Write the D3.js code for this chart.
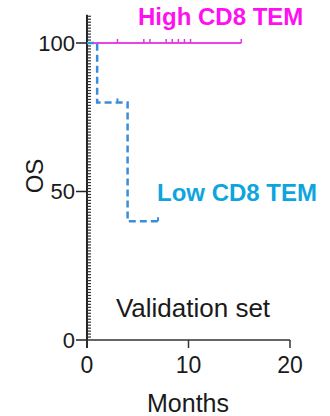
<!DOCTYPE html>
<html>
<head>
<meta charset="utf-8">
<script src="https://cdn.jsdelivr.net/npm/d3@7"></script>
<style>
  body { margin: 0; background: #fff; }
  svg { display: block; font-family: "Liberation Sans", Arial, sans-serif; }
</style>
</head>
<body>
<div id="chart"></div>
<script>
// Kaplan-Meier steps: [months, survival %]
const highSteps = [[0, 100], [15.2, 100]];
const highCensor = [3, 5.6, 6.2, 7.8, 8.4, 9.0, 9.6, 10.2, 15.2];
const lowSteps = [[0, 100], [1, 100], [1, 80], [4, 80], [4, 40], [7, 40]];
const lowCensor = [3, 7];
const xTicks = [0, 10, 20];
const yTicks = [0, 50, 100];
const seriesNames = ["High CD8 TEM", "Low CD8 TEM"];

const width = 330, height = 416;
const svg = d3.select("#chart").append("svg")
  .attr("width", width).attr("height", height);

const x = d3.scaleLinear().domain([0, 20]).range([87, 290]);
const y = d3.scaleLinear().domain([0, 100]).range([340, 43]);

// y axis: major ticks on the left, minor ticks on the right
const yAxis = svg.append("g").attr("transform", "translate(" + x(0) + ",0)");
yAxis.append("line")
  .attr("y1", y(109.5)).attr("y2", y(0) + 8)
  .attr("stroke", "#222").attr("stroke-width", 2);
yAxis.selectAll(".minor")
  .data(d3.range(1, 110))
  .enter().append("line")
  .attr("x1", 0).attr("x2", 4)
  .attr("y1", d => y(d)).attr("y2", d => y(d))
  .attr("stroke", "#333").attr("stroke-width", 1.2);
yAxis.selectAll(".major")
  .data(yTicks)
  .enter().append("line")
  .attr("x1", -11).attr("x2", 0)
  .attr("y1", d => y(d)).attr("y2", d => y(d))
  .attr("stroke", "#222").attr("stroke-width", 1.5);
yAxis.selectAll(".ylab")
  .data(yTicks)
  .enter().append("text")
  .attr("x", -12).attr("y", d => y(d))
  .attr("dy", "0.36em")
  .attr("text-anchor", "end")
  .attr("font-size", 22)
  .attr("fill", "#1a1a1a")
  .text(d => d);

// x axis
const xAxis = svg.append("g").attr("transform", "translate(0," + y(0) + ")");
xAxis.append("line")
  .attr("x1", x(0)).attr("x2", x(20))
  .attr("stroke", "#333").attr("stroke-width", 1.5);
xAxis.selectAll(".xt")
  .data(xTicks)
  .enter().append("line")
  .attr("x1", d => x(d)).attr("x2", d => x(d))
  .attr("y1", 0).attr("y2", 8)
  .attr("stroke", "#333").attr("stroke-width", 1.5);
xAxis.selectAll(".xlab")
  .data(xTicks)
  .enter().append("text")
  .attr("x", d => x(d)).attr("y", 33)
  .attr("text-anchor", "middle")
  .attr("font-size", 23)
  .attr("fill", "#1a1a1a")
  .text(d => d);

svg.append("text")
  .attr("x", 188).attr("y", 412)
  .attr("text-anchor", "middle")
  .attr("font-size", 25)
  .attr("fill", "#1a1a1a")
  .text("Months");

svg.append("text")
  .attr("transform", "translate(43,176) rotate(-90)")
  .attr("text-anchor", "middle")
  .attr("font-size", 24)
  .attr("fill", "#1a1a1a")
  .text("OS");

svg.append("text")
  .attr("x", 193).attr("y", 317)
  .attr("text-anchor", "middle")
  .attr("font-size", 26)
  .attr("fill", "#1a1a1a")
  .text("Validation set");

const line = d3.line().x(d => x(d[0])).y(d => y(d[1]));

// high group
svg.append("path")
  .datum(highSteps)
  .attr("d", line)
  .attr("fill", "none")
  .attr("stroke", "#e645e6").attr("stroke-width", 2);
svg.selectAll(".hc")
  .data(highCensor)
  .enter().append("line")
  .attr("x1", d => x(d)).attr("x2", d => x(d))
  .attr("y1", y(100)).attr("y2", y(100) - 4)
  .attr("stroke", "#d83cd8").attr("stroke-width", 1.5);

// low group
svg.append("path")
  .datum(lowSteps)
  .attr("d", line)
  .attr("fill", "none")
  .attr("stroke", "#3a8ed8").attr("stroke-width", 2.5)
  .attr("stroke-dasharray", "7,4");
svg.selectAll(".lc")
  .data(lowCensor)
  .enter().append("line")
  .attr("x1", d => x(d)).attr("x2", d => x(d))
  .attr("y1", (d, i) => y(i === 0 ? 80 : 40)).attr("y2", (d, i) => y(i === 0 ? 80 : 40) - 4)
  .attr("stroke", "#3a8ed8").attr("stroke-width", 2);

// group labels
svg.append("text")
  .attr("x", 138).attr("y", 25)
  .attr("font-size", 24).attr("font-weight", "bold")
  .attr("fill", "#ff10f0")
  .text(seriesNames[0]);
svg.append("text")
  .attr("x", 157).attr("y", 201)
  .attr("font-size", 24).attr("font-weight", "bold")
  .attr("fill", "#0ea5dd")
  .text(seriesNames[1]);
</script>
</body>
</html>
